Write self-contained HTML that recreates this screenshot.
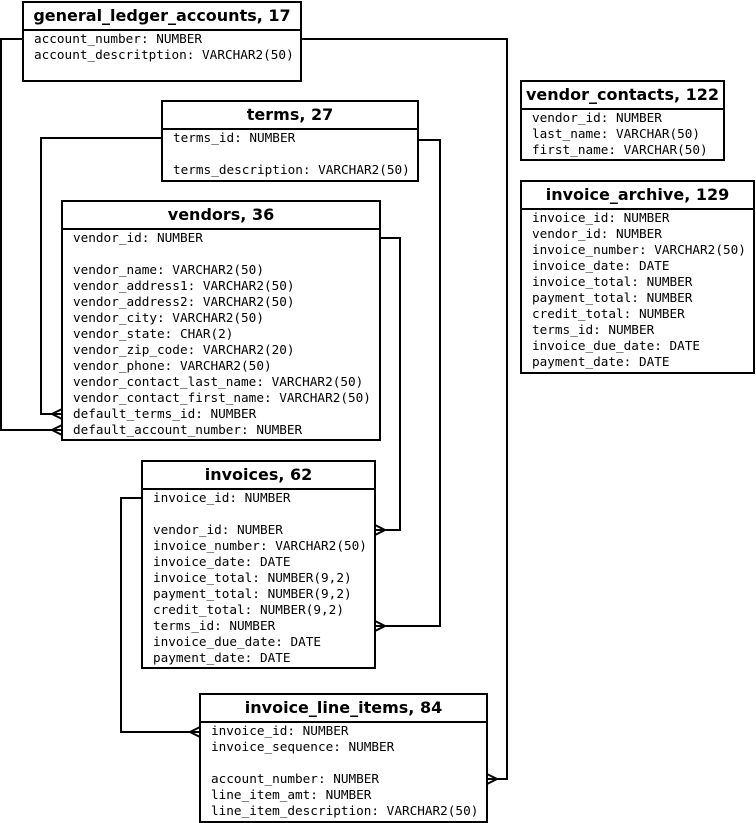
<!DOCTYPE html>
<html><head><meta charset="utf-8"><style>
body{margin:0;width:756px;height:823px;background:#fff;position:relative;overflow:hidden}
.t{position:absolute;border:2px solid #000;box-sizing:border-box;background:#fff}
.h{font:bold 16px "DejaVu Sans","Liberation Sans",sans-serif;text-align:center;border-bottom:2px solid #000;box-sizing:border-box;white-space:nowrap}
.b{font:12.7px "DejaVu Sans Mono","Liberation Mono",monospace;padding:0 0 0 10px;line-height:16px;white-space:pre}
svg{position:absolute;left:0;top:0}
</style></head><body>
<svg width="756" height="823" fill="none" stroke="#000" stroke-width="2">
<path d="M22,39 H1 V430 H62"/><path d="M52,430 L62,425 M52,430 L62,435"/>
<path d="M301,39 H507 V779 H487"/><path d="M497,779 L487,774 M497,779 L487,784"/>
<path d="M162,138 H41 V414 H62"/><path d="M52,414 L62,409 M52,414 L62,419"/>
<path d="M418,140 H440 V626 H375"/><path d="M385,626 L375,621 M385,626 L375,631"/>
<path d="M380,238 H400 V530 H375"/><path d="M385,530 L375,525 M385,530 L375,535"/>
<path d="M142,498 H121 V732 H200"/><path d="M190,732 L200,727 M190,732 L200,737"/>
</svg>
<div class="t" style="left:22px;top:1px;width:280px;height:81px"><div class="h" style="height:28px;line-height:26px">general_ledger_accounts, 17</div><div class="b">account_number: NUMBER
account_descritption: VARCHAR2(50)</div></div>
<div class="t" style="left:161px;top:100px;width:258px;height:82px"><div class="h" style="height:28px;line-height:26px">terms, 27</div><div class="b">terms_id: NUMBER

terms_description: VARCHAR2(50)</div></div>
<div class="t" style="left:61px;top:200px;width:320px;height:241px"><div class="h" style="height:28px;line-height:26px">vendors, 36</div><div class="b">vendor_id: NUMBER

vendor_name: VARCHAR2(50)
vendor_address1: VARCHAR2(50)
vendor_address2: VARCHAR2(50)
vendor_city: VARCHAR2(50)
vendor_state: CHAR(2)
vendor_zip_code: VARCHAR2(20)
vendor_phone: VARCHAR2(50)
vendor_contact_last_name: VARCHAR2(50)
vendor_contact_first_name: VARCHAR2(50)
default_terms_id: NUMBER
default_account_number: NUMBER</div></div>
<div class="t" style="left:141px;top:460px;width:235px;height:209px"><div class="h" style="height:28px;line-height:26px">invoices, 62</div><div class="b">invoice_id: NUMBER

vendor_id: NUMBER
invoice_number: VARCHAR2(50)
invoice_date: DATE
invoice_total: NUMBER(9,2)
payment_total: NUMBER(9,2)
credit_total: NUMBER(9,2)
terms_id: NUMBER
invoice_due_date: DATE
payment_date: DATE</div></div>
<div class="t" style="left:520px;top:80px;width:205px;height:81px"><div class="h" style="height:28px;line-height:26px">vendor_contacts, 122</div><div class="b">vendor_id: NUMBER
last_name: VARCHAR(50)
first_name: VARCHAR(50)</div></div>
<div class="t" style="left:520px;top:180px;width:235px;height:194px"><div class="h" style="height:28px;line-height:26px">invoice_archive, 129</div><div class="b">invoice_id: NUMBER
vendor_id: NUMBER
invoice_number: VARCHAR2(50)
invoice_date: DATE
invoice_total: NUMBER
payment_total: NUMBER
credit_total: NUMBER
terms_id: NUMBER
invoice_due_date: DATE
payment_date: DATE</div></div>
<div class="t" style="left:199px;top:693px;width:289px;height:130px"><div class="h" style="height:28px;line-height:26px">invoice_line_items, 84</div><div class="b">invoice_id: NUMBER
invoice_sequence: NUMBER

account_number: NUMBER
line_item_amt: NUMBER
line_item_description: VARCHAR2(50)</div></div>
</body></html>
